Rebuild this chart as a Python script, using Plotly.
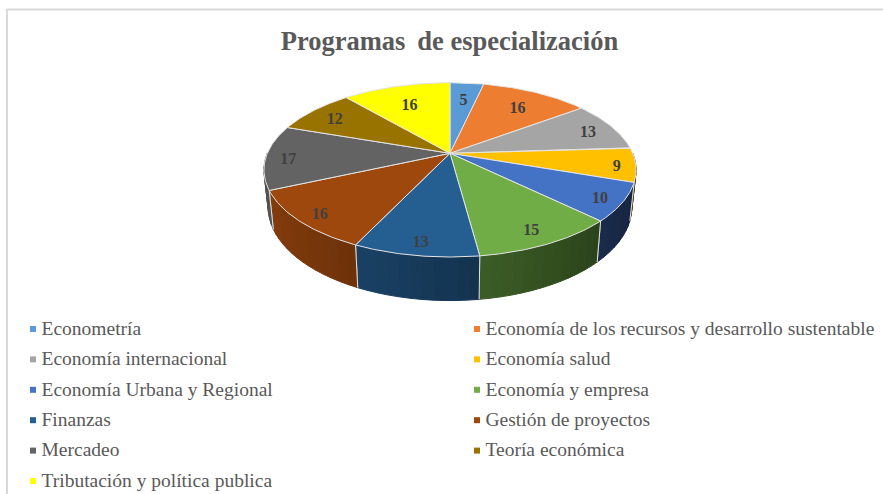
"""Programas de especializacion: 3D-looking pie drawn with filled scatter traces."""

import numpy as np
import plotly.graph_objects as go

categories = [
    "Econometría",
    "Economía de los recursos y desarrollo sustentable",
    "Economía internacional",
    "Economía salud",
    "Economía Urbana y Regional",
    "Economía y empresa",
    "Finanzas",
    "Gestión de proyectos",
    "Mercadeo",
    "Teoría económica",
    "Tributación y política publica",
]
values = [5, 16, 13, 9, 10, 15, 13, 16, 17, 12, 16]
colors = [
    "#5B9BD5", "#ED7D31", "#A5A5A5", "#FFC000", "#4472C4", "#70AD47",
    "#255E91", "#9E480E", "#636363", "#997300", "#FFFF00",
]

# where each number sits along its slice radius
label_radius = [0.76, 0.76, 0.85, 0.9, 0.88, 0.85, 0.87, 0.88, 0.88, 0.83, 0.72]

# projection of the pie, in pixels
CX, CY = 450, 153.3
A, B, P = 182.7, 84, 0.19
SIDE_DROP, SIDE_SX, SIDE_SY = 36.3, 0.977, 1.07

TEXT_GREY = "#595959"
EDGE = "#e4e4e4"
SERIF = "Liberation Serif"


def project(theta, r=1.0, bottom=False):
    u, v = r * np.sin(theta), -r * np.cos(theta)
    den = 1 - P * v
    x, y = A * u / den, B * v / den
    if bottom:
        return CX + SIDE_SX * x, CY + SIDE_DROP + SIDE_SY * y
    return CX + x, CY + y


def shade(color, f):
    rgb = [int(color[i:i + 2], 16) for i in (1, 3, 5)]
    return "rgb(%d,%d,%d)" % tuple(c * f for c in rgb)


def poly(x, y, fill, line=None, width=1.0):
    # repeat the first point so the outline closes too
    x, y = list(x), list(y)
    return go.Scatter(
        x=x + x[:1], y=y + y[:1], mode="lines", fill="toself", fillcolor=fill,
        line=dict(color=line or fill, width=width),
        hoverinfo="skip", showlegend=False,
    )


fig = go.Figure()

cum = np.cumsum([0] + values) / sum(values) * 2 * np.pi
starts, ends = cum[:-1], cum[1:]

# side wall, front half only, in strips so it gets the left-right gradient
for start, end, color in zip(starts, ends, colors):
    a0, a1 = max(start, np.pi / 2), min(end, 3 * np.pi / 2)
    if a1 <= a0:
        continue
    edges = np.linspace(a0, a1, max(2, int((a1 - a0) / 0.05) + 1))
    for t0, t1 in zip(edges[:-1], edges[1:]):
        t = np.array([t0, t1])
        xt, yt = project(t)
        xb, yb = project(t[::-1], bottom=True)
        f = 0.58 - 0.27 * np.sin((t0 + t1) / 2)
        fig.add_trace(poly(np.r_[xt, xb], np.r_[yt, yb], shade(color, f)))
    # light seam where two walls meet
    for t in (start, end):
        if np.pi / 2 < t < 3 * np.pi / 2:
            xt, yt = project(t)
            xb, yb = project(t, bottom=True)
            fig.add_trace(go.Scatter(
                x=[xt, xb], y=[yt, yb], mode="lines",
                line=dict(color=EDGE, width=1),
                hoverinfo="skip", showlegend=False,
            ))

# top faces
for start, end, color in zip(starts, ends, colors):
    t = np.linspace(start, end, 60)
    xa, ya = project(t)
    fig.add_trace(poly(np.r_[CX, xa], np.r_[CY, ya], color, EDGE, 1))

# value labels
mid = (starts + ends) / 2
lx, ly = project(mid, np.array(label_radius))
fig.add_trace(go.Scatter(
    x=lx, y=ly + 3, mode="text", text=[str(v) for v in values],
    textposition="middle center",
    textfont=dict(family=SERIF, size=16, color="#404040", weight="bold"),
    hoverinfo="skip", showlegend=False,
))

# two-column legend, filled row by row
legend_x = [33 if i % 2 == 0 else 477 for i in range(len(categories))]
legend_y = [330 + 30.4 * (i // 2) for i in range(len(categories))]
fig.add_trace(go.Scatter(
    x=legend_x, y=[y - 1 for y in legend_y], mode="markers",
    marker=dict(symbol="square", size=6, color=colors, line=dict(width=0)),
    hoverinfo="skip", showlegend=False,
))
fig.add_trace(go.Scatter(
    x=[x + 8.5 for x in legend_x], y=legend_y, mode="text", text=categories,
    textposition="middle right",
    textfont=dict(family=SERIF, size=19.5, color=TEXT_GREY),
    hoverinfo="skip", showlegend=False,
))

fig.update_layout(
    width=883,
    height=494,
    margin=dict(l=0, r=0, t=0, b=0),
    paper_bgcolor="white",
    plot_bgcolor="white",
    showlegend=False,
    title=dict(
        text="<b>Programas\u2009 de especialización</b>",
        x=0.509, xanchor="center", y=1 - 41 / 494, yanchor="middle",
        font=dict(family=SERIF, size=26.5, color=TEXT_GREY),
    ),
    xaxis=dict(range=[0, 883], visible=False, fixedrange=True),
    yaxis=dict(range=[494, 0], visible=False, fixedrange=True),
    shapes=[
        dict(type="line", x0=7, x1=883, y0=9.5, y1=9.5,
             line=dict(color="#d9d9d9", width=2)),
        dict(type="line", x0=7, x1=7, y0=9, y1=494,
             line=dict(color="#d9d9d9", width=2)),
    ],
)

fig.write_html(
    "out.html",
    config=dict(displayModeBar=False),
    post_script="document.body.style.margin='0';",
)
